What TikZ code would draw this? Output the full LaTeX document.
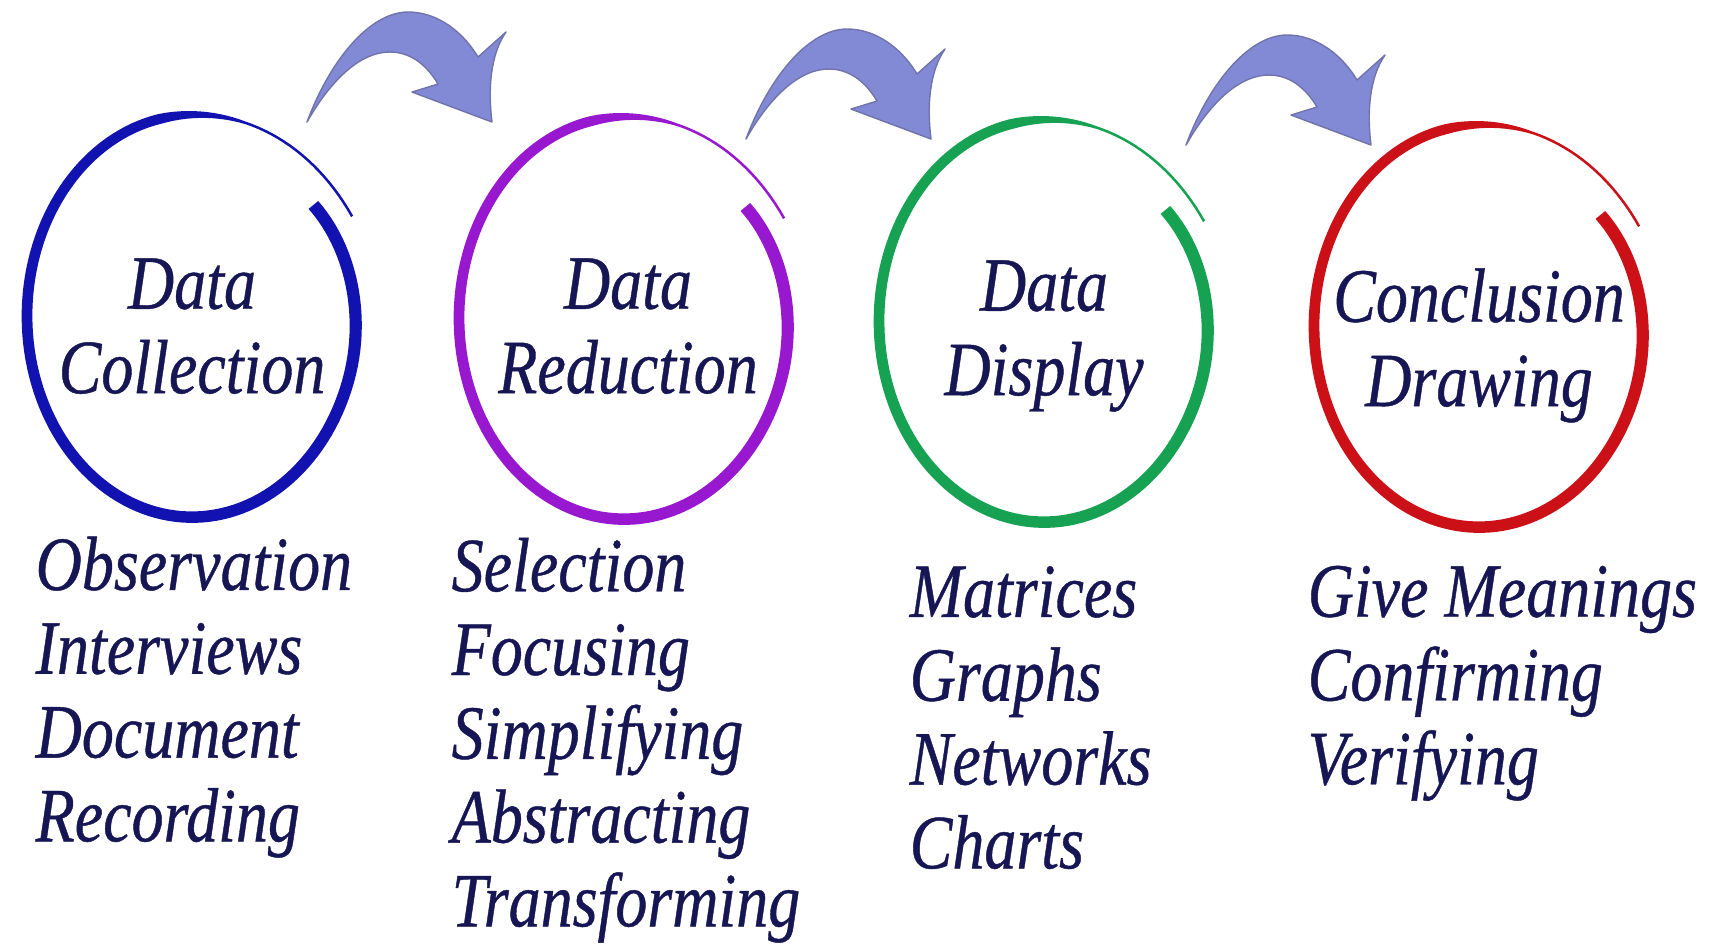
\documentclass[tikz,border=0pt]{standalone}
\usepackage{fontspec}
\setmainfont{Liberation Serif}
\newfontfamily\inkfont{Liberation Serif}[FakeBold=0.6]
\definecolor{ink}{RGB}{22,22,84}
\definecolor{ringblue}{RGB}{18,18,176}
\definecolor{ringpurple}{RGB}{152,24,208}
\definecolor{ringgreen}{RGB}{22,162,82}
\definecolor{ringred}{RGB}{204,16,24}
\definecolor{hopfill}{RGB}{130,138,214}
\definecolor{hopdraw}{RGB}{112,116,170}
\tikzset{
  stage/.style={font=\inkfont\fontsize{18.2}{20}\selectfont\itshape, text=ink, align=center,
    anchor=base, inner sep=0pt, transform shape},
  items/.style={font=\inkfont\fontsize{18.2}{19.85}\selectfont\itshape, text=ink, align=left,
    anchor=base west, inner sep=0pt, transform shape},
  hoparrow/.style={fill=hopfill, draw=hopdraw, line width=0.4pt, line join=round},
  declare function={
    ringr(\t)=1-0.08*max(0,1-\t/0.15)^2+0.09*max(0,(\t-0.8)/0.2)^2;
    ringw(\t)=2.5+(10-3*\t)*max(0,min(1,(0.88-\t)/0.08));
    ringa(\t)=37-370*\t;
  }
}
\begin{document}
\begin{tikzpicture}[x=0.01cm, y=-0.0083333cm, yscale=1.2]
\fill[white] (0,0) rectangle (1712,949);
\useasboundingbox (0,0) rectangle (1712,949);

% rings
\foreach \cx/\cy/\col in {192/316/ringblue, 624/318/ringpurple, 1044/321/ringgreen, 1479/326/ringred}
  \fill[\col] plot[domain=0:1, samples=160, variable=\t]
      ({\cx+(ringr(\t)*165+ringw(\t)/2)*cos(ringa(\t))}, {\cy-(ringr(\t)*201+ringw(\t)/2)*sin(ringa(\t))})
    -- plot[domain=1:0, samples=160, variable=\t]
      ({\cx+(ringr(\t)*165-ringw(\t)/2)*cos(ringa(\t))}, {\cy-(ringr(\t)*201-ringw(\t)/2)*sin(ringa(\t))})
    -- cycle;

% curved arrows
\foreach \dx/\dy in {0/0, 439/17, 879/23}
  \filldraw[hoparrow, shift={(\dx,\dy)}] (307,122) .. controls (330,60) and (370,12) .. (408,12)
    .. controls (440,12) and (465,35) .. (478,57) -- (506,32)
    .. controls (490,55) and (488,90) .. (492,122) -- (412,92) -- (438,84)
    .. controls (425,62) and (408,52) .. (390,52) .. controls (355,52) and (325,90) .. cycle;

% base is the last line
\node[stage] (collect) at (192,393) {Data\\Collection};
\node[stage] (reduce) at (628,393) {Data\\Reduction};
\node[stage] (display) at (1044,395) {Data\\Display};
\node[stage] (conclude) at (1479,406) {Conclusion\\Drawing};

\node[items] (collectlist) at (35,841) {Observation\\Interviews\\Document\\Recording};
\node[items] (reducelist) at (451,926) {Selection\\Focusing\\Simplifying\\Abstracting\\Transforming};
\node[items] (displaylist) at (909,868) {Matrices\\Graphs\\Networks\\Charts};
\node[items] (concludelist) at (1307,784) {Give Meanings\\Confirming\\Verifying};
\end{tikzpicture}
\end{document}
